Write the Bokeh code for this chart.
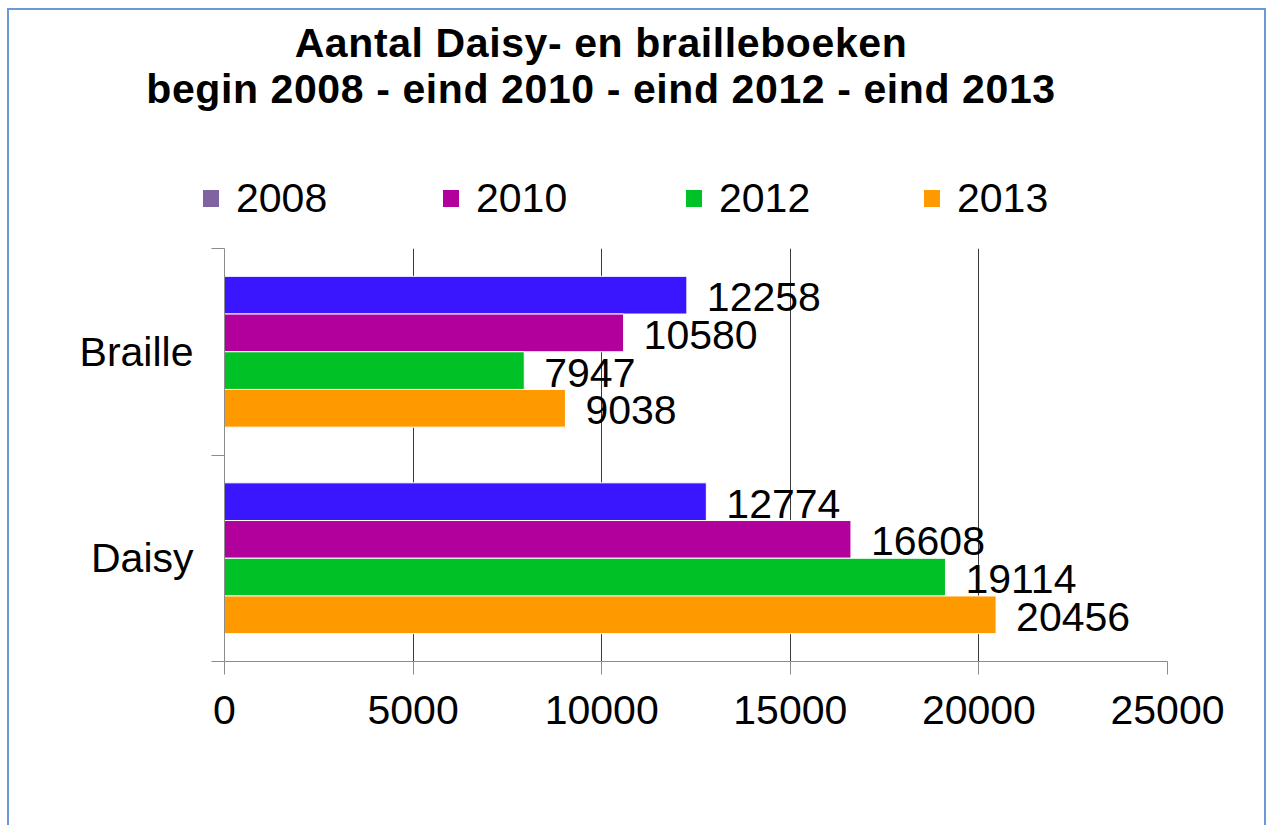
from bokeh.plotting import figure
from bokeh.layouts import column
from bokeh.models import ColumnDataSource, Range1d, FixedTicker, Div
from bokeh.core.properties import value
from bokeh.embed import file_html
from bokeh.resources import INLINE

# ---- data ----
categories = ["Braille", "Daisy"]          # top to bottom
years = ["2008", "2010", "2012", "2013"]
v2008 = [12258, 12774]
v2010 = [10580, 16608]
v2012 = [7947, 19114]
v2013 = [9038, 20456]
x_ticks = [0, 5000, 10000, 15000, 20000, 25000]
title_lines = ["Aantal Daisy- en brailleboeken",
               "begin 2008 - eind 2010 - eind 2012 - eind 2013"]

series = [v2008, v2010, v2012, v2013]
bar_colors = ["#3A16FF", "#B1009B", "#00C126", "#FF9900"]
legend_colors = ["#8064A2", "#B1009B", "#00C126", "#FF9900"]

FONT = "Liberation Sans"
GRID = "#3a3a3a"
AXIS = "#8c8c8c"
W = 1255
HEAD_H = 238
MAIN_H = 577

# ---------------- header: title + legend (HTML text) ----------------
title_tops = [13, 59]
legend_lefts = [194, 434, 677, 915]
parts = ['<div style="position:relative; width:%dpx; height:%dpx; font-family:\'%s\';">'
         % (W, HEAD_H, FONT)]
for txt, top in zip(title_lines, title_tops):
    parts.append('<div style="position:absolute; left:0; top:%dpx; width:1184px; '
                 'text-align:center; font-size:41px; line-height:41px; font-weight:bold; '
                 'letter-spacing:0.6px; color:black; white-space:nowrap;">%s</div>' % (top, txt))
for yr, col, lx in zip(years, legend_colors, legend_lefts):
    parts.append('<div style="position:absolute; left:%dpx; top:180px; width:16px; height:17px; '
                 'background:%s;"></div>' % (lx, col))
    parts.append('<div style="position:absolute; left:%dpx; top:168px; font-size:41px; '
                 'line-height:41px; color:black; white-space:nowrap;">%s</div>' % (lx + 33, yr))
parts.append('</div>')
head = Div(text="".join(parts), width=W, height=HEAD_H, margin=(0, 0, 0, 0))

# ---------------- main chart ----------------
n = len(categories)
centers = [n - 1 - i + 0.5 for i in range(n)]   # band centre per category, top first

p = figure(width=W, height=MAIN_H,
           x_range=Range1d(0, 25000),
           y_range=Range1d(0, n),
           output_backend="svg", toolbar_location=None,
           min_border_left=215, min_border_right=97,
           min_border_top=0, min_border_bottom=164)
p.title.visible = False
p.outline_line_color = None
p.background_fill_color = "white"
p.border_fill_color = "white"

p.xaxis.ticker = FixedTicker(ticks=x_ticks)
p.xaxis.axis_line_color = AXIS
p.xaxis.major_tick_line_color = AXIS
p.xaxis.major_tick_out = 13
p.xaxis.major_tick_in = 0
p.xaxis.minor_tick_line_color = None
p.xaxis.major_label_text_font = FONT
p.xaxis.major_label_text_font_size = "41px"
p.xaxis.major_label_text_color = "black"
p.xaxis.major_label_standoff = 21
p.xgrid.ticker = FixedTicker(ticks=x_ticks)
p.xgrid.grid_line_color = GRID
p.xgrid.grid_line_width = 1
p.ygrid.visible = False

yaxis = p.yaxis[0]
yaxis.ticker = FixedTicker(ticks=centers, minor_ticks=list(range(n + 1)))
yaxis.major_label_overrides = {c: cat for c, cat in zip(centers, categories)}
yaxis.axis_line_color = AXIS
yaxis.major_tick_out = 0
yaxis.major_tick_in = 0
yaxis.major_tick_line_color = None
yaxis.minor_tick_out = 13
yaxis.minor_tick_in = 0
yaxis.minor_tick_line_color = AXIS
yaxis.major_label_text_font = FONT
yaxis.major_label_text_font_size = "41px"
yaxis.major_label_text_color = "black"
yaxis.major_label_standoff = 18

h = 0.1826
offsets = [1.5 * h, 0.5 * h, -0.5 * h, -1.5 * h]
for vals, col, off in zip(series, bar_colors, offsets):
    src = ColumnDataSource(dict(y=[c + off for c in centers], val=vals,
                                lab=[str(v) for v in vals]))
    p.hbar(y="y", left=0, right="val", height=h, source=src,
           fill_color=col, line_color="white", line_width=1)
    p.text(x="val", y="y", text="lab", source=src, x_offset=20, y_offset=2,
           text_baseline="middle", text_align="left",
           text_font=value(FONT), text_font_size=value("41px"), text_color="black")

lay = column(head, p, spacing=0)
lay.styles = {"border": "2px solid #6A98D8", "border-bottom": "none",
              "margin": "8px 0 0 7px"}

open("out.html", "w").write(file_html(lay, INLINE))
